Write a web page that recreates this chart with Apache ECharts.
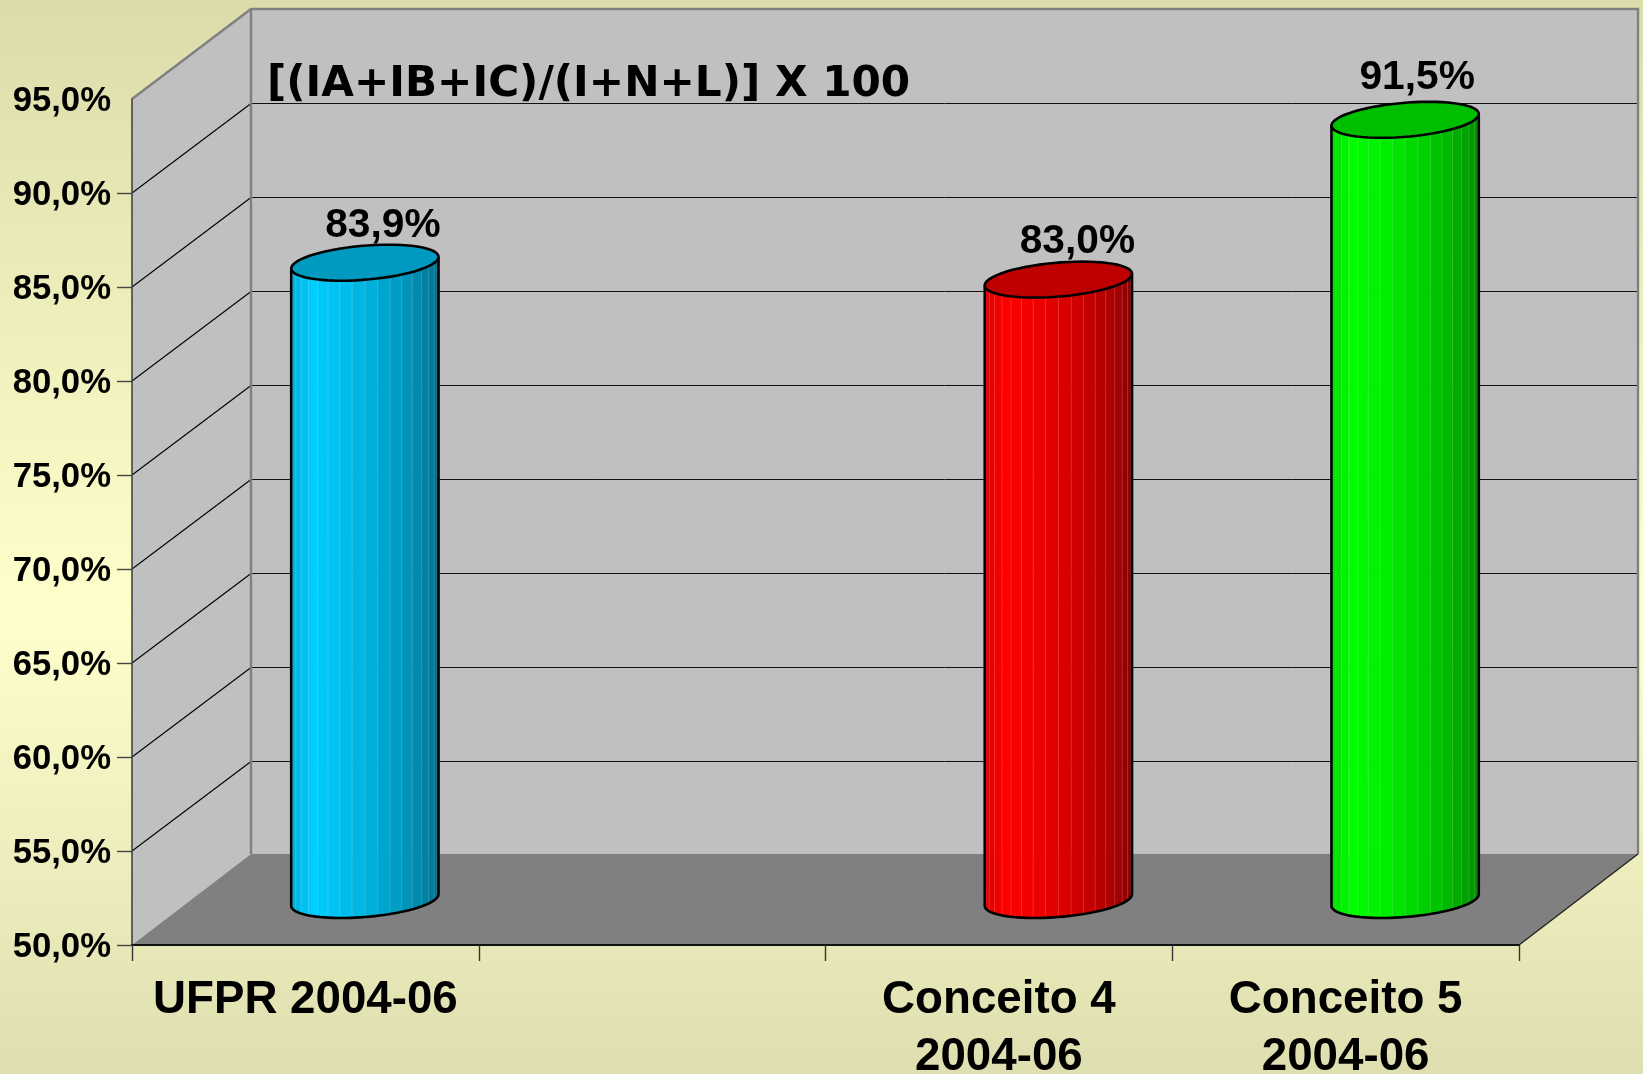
<!DOCTYPE html>
<html><head><meta charset="utf-8">
<style>html,body{margin:0;padding:0;background:#e6e6b8}#c{width:1643px;height:1074px}</style>
<script src="https://cdn.jsdelivr.net/npm/echarts@6/dist/echarts.min.js"></script>
</head><body><div id="c"></div>
<script>
const categories = ['UFPR 2004-06', '', 'Conceito 4\n2004-06', 'Conceito 5\n2004-06'];
const values = [83.9, null, 83.0, 91.5];
const barColors = [[0,204,255], null, [255,0,0], [0,255,0]];
const yMin = 50, yMax = 95, yStep = 5;
const yTicks = [50,55,60,65,70,75,80,85,90];
const gridValues = [55,60,65,70,75,80,85,90];
const titleText = '[(IA+IB+IC)/(I+N+L)] X 100';
const labelNudge = [[18,-16.6], null, [19,-17.6], [12,-21.7]];

const DEPTH_X = 119, DEPTH_Y = -90;
const SANS = '"Liberation Sans", Arial, sans-serif';
const fmt = v => v.toFixed(1).replace('.', ',') + '%';
const shade = (c, k) => 'rgb(' + c.map(x => Math.round(x * k)).join(',') + ')';
const stops = [[0,.86],[.15,1],[.5,.88],[.8,.72],[.93,.62],[1,.55]];
function intensity(f){
  for (let i = 1; i < stops.length; i++) if (f <= stops[i][0]) {
    const a = stops[i-1], b = stops[i];
    return a[1] + (b[1]-a[1]) * (f-a[0]) / (b[0]-a[0]);
  }
  return stops[stops.length-1][1];
}

function renderWalls(params, api){
  const g = params.coordSys, x0 = g.x, x1 = g.x + g.width;
  const yOf = v => api.coord([0, v])[1];
  const yb = yOf(yMin), yt = yOf(yMax);
  const backGray = '#808080';
  const floorBack = yb + DEPTH_Y - 1;
  const kids = [
    {type:'polygon', shape:{points:[[x0+DEPTH_X,yt+DEPTH_Y],[x1+DEPTH_X,yt+DEPTH_Y],[x1+DEPTH_X,floorBack],[x0+DEPTH_X,floorBack]]}, style:{fill:'#c0c0c0'}},
    {type:'polygon', shape:{points:[[x0,yt],[x0+DEPTH_X,yt+DEPTH_Y],[x0+DEPTH_X,floorBack],[x0,yb]]}, style:{fill:'#c0c0c0'}},
    {type:'polygon', shape:{points:[[x0,yb],[x1,yb],[x1+DEPTH_X,floorBack],[x0+DEPTH_X,floorBack]]}, style:{fill:'#808080'}}
  ];
  gridValues.forEach(v => {
    const y = yOf(v), by = Math.round(y + DEPTH_Y) + 0.5;
    kids.push({type:'polyline', shape:{points:[[x0,y],[x0+DEPTH_X,by]]}, style:{fill:null, stroke:'#000', lineWidth:1.1}});
    kids.push({type:'line', shape:{x1:x0+DEPTH_X,y1:by,x2:x1+DEPTH_X,y2:by}, style:{stroke:'#111', lineWidth:1}});
  });
  kids.push({type:'polyline', shape:{points:[[x0,yt],[x0+DEPTH_X,yt+DEPTH_Y],[x1+DEPTH_X,yt+DEPTH_Y],[x1+DEPTH_X,floorBack]]}, style:{fill:null, stroke:backGray, lineWidth:2.4}});
  kids.push({type:'line', shape:{x1:x0+DEPTH_X,y1:yt+DEPTH_Y,x2:x0+DEPTH_X,y2:floorBack}, style:{stroke:backGray, lineWidth:2.4}});
  kids.push({type:'line', shape:{x1:x1,y1:yb,x2:x1+DEPTH_X,y2:floorBack}, style:{stroke:'#222', lineWidth:1.4}});
  return {type:'group', children:kids};
}

function renderCylinder(params, api){
  const idx = api.value(0), val = api.value(1);
  const g = params.coordSys;
  const band = g.width / categories.length;
  const cx = api.coord([idx, val])[0] + DEPTH_X/2;
  const topY = api.coord([idx, val])[1] + DEPTH_Y/2;
  const botY = api.coord([idx, yMin])[1] + DEPTH_Y/2;
  const a = band * 0.201, px = DEPTH_X * 0.2, py = DEPTH_Y * 0.2;
  const color = barColors[idx];
  const pt = (t, yc) => [cx + a*Math.cos(t) + px*Math.sin(t), yc + py*Math.sin(t)];
  const t0 = Math.PI + Math.atan2(px, a);
  const N = 18, kids = [];
  const xw = Math.hypot(a, px);
  for (let i = 0; i < N; i++){
    const t1 = t0 + Math.PI*i/N, t2 = t0 + Math.PI*(i+1)/N;
    const mid = pt((t1+t2)/2, 0)[0];
    const f = (mid - (cx - xw)) / (2*xw);
    kids.push({type:'polygon', shape:{points:[pt(t1,topY),pt(t2,topY),pt(t2,botY),pt(t1,botY)]}, style:{fill:shade(color,intensity(f)), stroke:shade(color,intensity(f)), lineWidth:0.6}});
  }
  for (let i = 1; i < N; i++){
    const t = t0 + Math.PI*i/N;
    const p = pt(t, topY), q = pt(t, botY);
    kids.push({type:'line', shape:{x1:p[0],y1:p[1],x2:q[0],y2:q[1]}, style:{stroke:'rgba(255,255,255,0.16)', lineWidth:1}});
  }
  const body = [];
  for (let i = 0; i <= 48; i++) body.push(pt(t0 + Math.PI*i/48, botY));
  body.unshift(pt(t0, topY));
  body.push(pt(t0 + Math.PI, topY));
  kids.push({type:'polyline', shape:{points:body}, style:{fill:null, stroke:'#000', lineWidth:2.6, lineJoin:'round'}});
  const ell = [];
  for (let i = 0; i < 64; i++) ell.push(pt(Math.PI*2*i/64, topY));
  kids.push({type:'polygon', shape:{points:ell}, style:{fill:shade(color,.75), stroke:'#000', lineWidth:2.6}});
  const n = labelNudge[idx];
  kids.push({type:'text', style:{text:fmt(val), x:cx+n[0], y:topY+n[1], align:'center', verticalAlign:'bottom', fill:'#000', font:'bold 40.7px '+SANS}});
  return {type:'group', children:kids};
}

const chart = echarts.init(document.getElementById('c'), null, {renderer:'canvas', width:1643, height:1074});
chart.setOption({
  animation:false,
  backgroundColor:new echarts.graphic.LinearGradient(0, 0, 0, 1, [
    {offset:0,color:'#dcdcaa'},{offset:.57,color:'#ffffcc'},{offset:1,color:'#dedeb0'}]),
  title:{text:titleText, left:262, top:59, z:10, textStyle:{fontFamily:'"DejaVu Sans"', fontWeight:'bold', fontSize:42.2, color:'#000'}},
  grid:{left:132, right:124, top:99, bottom:129, containLabel:false, outerBoundsMode:'none'},
  xAxis:{type:'category', data:categories, z:5, boundaryGap:true,
    axisLine:{show:true, lineStyle:{color:'#111', width:2}},
    axisTick:{show:true, length:16, alignWithLabel:false, lineStyle:{color:'#333', width:1.4}},
    axisLabel:{interval:0, margin:27, fontFamily:SANS, fontWeight:'bold', fontSize:45.7, color:'#000', lineHeight:57}},
  yAxis:{type:'value', min:yMin, max:yMax, interval:yStep, z:5,
    axisLine:{show:true, lineStyle:{color:'#444', width:1.6}},
    axisTick:{show:true, length:15, customValues:yTicks, lineStyle:{color:'#444', width:1.4}},
    splitLine:{show:false},
    axisLabel:{margin:21, verticalAlign:'top', lineHeight:4, fontFamily:SANS, fontWeight:'bold', fontSize:34.7, color:'#000', formatter:v=>fmt(v)}},
  series:[
    {type:'custom', name:'walls', coordinateSystem:'cartesian2d', z:1, clip:false, silent:true, data:[[0,yMin]], renderItem:renderWalls},
    {type:'custom', name:'cylinders', coordinateSystem:'cartesian2d', z:3, clip:false, encode:{x:0,y:1},
      data:values.map((v,i)=>v==null?null:[i,v]).filter(Boolean), renderItem:renderCylinder}
  ]
});
</script></body></html>
